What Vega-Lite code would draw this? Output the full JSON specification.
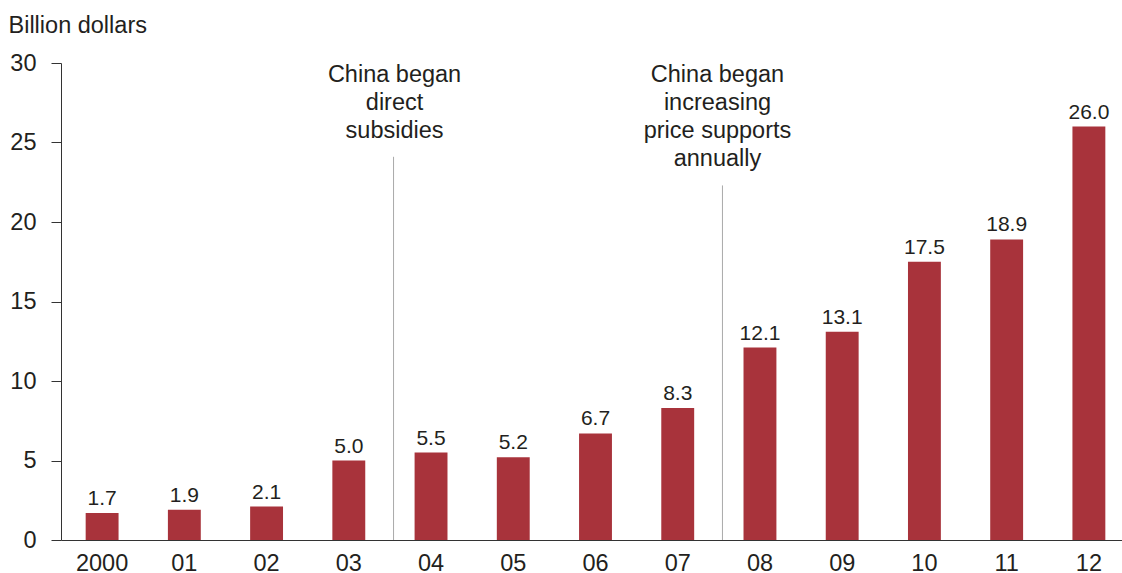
{
  "$schema": "https://vega.github.io/schema/vega-lite/v6.json",
  "autosize": "none",
  "width": 1069,
  "height": 477,
  "padding": {"left": 61, "top": 63, "right": 0, "bottom": 33},
  "background": "white",
  "config": {"view": {"stroke": null}, "font": "Liberation Sans"},
  "datasets": {
    "bars": [
      {"year": "2000", "value": 1.7},
      {"year": "01", "value": 1.9},
      {"year": "02", "value": 2.1},
      {"year": "03", "value": 5.0},
      {"year": "04", "value": 5.5},
      {"year": "05", "value": 5.2},
      {"year": "06", "value": 6.7},
      {"year": "07", "value": 8.3},
      {"year": "08", "value": 12.1},
      {"year": "09", "value": 13.1},
      {"year": "10", "value": 17.5},
      {"year": "11", "value": 18.9},
      {"year": "12", "value": 26.0}
    ],
    "notes": [
      {"year": "04", "label": "China began|direct|subsidies", "top": 24.1, "texty": 30},
      {"year": "08", "label": "China began|increasing|price supports|annually", "top": 22.3, "texty": 30}
    ]
  },
  "encoding": {
    "x": {
      "field": "year",
      "type": "nominal",
      "sort": null,
      "scale": {
        "domain": ["2000", "01", "02", "03", "04", "05", "06", "07", "08", "09", "10", "11", "12"],
        "paddingInner": 0.6,
        "paddingOuter": 0.3
      },
      "axis": {
        "title": null,
        "labelAngle": 0,
        "ticks": false,
        "labelPadding": 11,
        "labelFontSize": 23.5,
        "labelColor": "#231f20",
        "domainColor": "#333333",
        "domainWidth": 1
      }
    }
  },
  "layer": [
    {
      "data": {"name": "bars"},
      "mark": {"type": "bar", "color": "#a8333b"},
      "encoding": {
        "y": {
          "field": "value",
          "type": "quantitative",
          "scale": {"domain": [0, 30], "nice": false},
          "axis": {
            "title": "Billion dollars",
            "titleAngle": 0,
            "titleX": -53,
            "titleY": -31,
            "titleAlign": "left",
            "titleBaseline": "alphabetic",
            "titleFontSize": 23.5,
            "titleFontWeight": "normal",
            "titleColor": "#231f20",
            "values": [0, 5, 10, 15, 20, 25, 30],
            "grid": false,
            "tickSize": 10,
            "tickColor": "#333333",
            "labelPadding": 15,
            "labelFontSize": 23.5,
            "labelColor": "#231f20",
            "domainColor": "#333333"
          }
        }
      }
    },
    {
      "data": {"name": "bars"},
      "mark": {"type": "text", "baseline": "alphabetic", "dy": -8, "fontSize": 21, "color": "#231f20"},
      "encoding": {
        "y": {"field": "value", "type": "quantitative"},
        "text": {"field": "value", "type": "quantitative", "format": ".1f"}
      }
    },
    {
      "data": {"name": "notes"},
      "mark": {"type": "rule", "color": "#aaaaaa", "strokeWidth": 1},
      "encoding": {
        "x": {"field": "year", "type": "nominal", "bandPosition": -0.64},
        "y": {"field": "top", "type": "quantitative"},
        "y2": {"datum": 0}
      }
    },
    {
      "data": {"name": "notes"},
      "transform": [{"filter": "datum.year == '04'"}],
      "mark": {"type": "text", "baseline": "top", "align": "center", "lineBreak": "|", "lineHeight": 28, "fontSize": 23.5, "color": "#231f20", "dx": 1},
      "encoding": {
        "x": {"field": "year", "type": "nominal", "bandPosition": -0.64},
        "y": {"field": "texty", "type": "quantitative"},
        "text": {"field": "label", "type": "nominal"}
      }
    },
    {
      "data": {"name": "notes"},
      "transform": [{"filter": "datum.year == '08'"}],
      "mark": {"type": "text", "baseline": "top", "align": "center", "lineBreak": "|", "lineHeight": 28, "fontSize": 23.5, "color": "#231f20", "dx": -5},
      "encoding": {
        "x": {"field": "year", "type": "nominal", "bandPosition": -0.64},
        "y": {"field": "texty", "type": "quantitative"},
        "text": {"field": "label", "type": "nominal"}
      }
    }
  ]
}
